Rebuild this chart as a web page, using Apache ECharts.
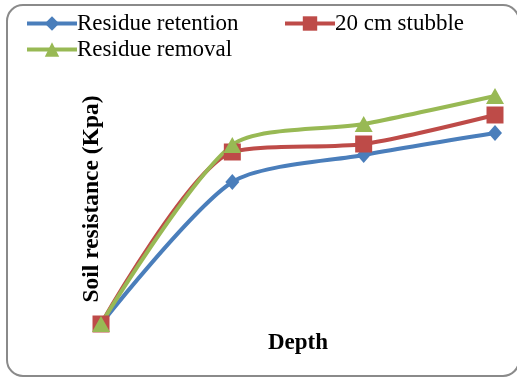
<!DOCTYPE html>
<html>
<head>
<meta charset="utf-8">
<script src="https://cdn.jsdelivr.net/npm/echarts@6/dist/echarts.min.js"></script>
<style>
html,body{margin:0;padding:0;background:#fff;}
#chart{width:517px;height:379px;}
</style>
</head>
<body>
<div id="chart"></div>
<script>
var categories = ['D1', 'D2', 'D3', 'D4'];
var residueRetention = [0, 142, 169, 191];
var stubble20 = [0, 172, 180, 209];
var residueRemoval = [0, 179, 200, 228];
var seriesNames = ['Residue retention', '20 cm stubble', 'Residue removal'];

var font = 'Liberation Serif';
var chart = echarts.init(document.getElementById('chart'));
var legendText = {fontFamily: font, fontSize: 23, color: '#000', padding: [0, 0, 0, -5]};
var legendCommon = {itemWidth: 50, itemHeight: 18, padding: 0, textStyle: legendText, lineStyle: {width: 4}};
chart.setOption({
  animation: false,
  backgroundColor: '#fff',
  graphic: [{
    type: 'rect', z: -10,
    shape: {x: 7, y: 5, width: 512, height: 371, r: 16},
    style: {fill: '#fff', stroke: '#8a8a8a', lineWidth: 2}
  }],
  legend: [
    Object.assign({data: [seriesNames[0]], left: 25, top: 12}, legendCommon),
    Object.assign({data: [seriesNames[1]], left: 283, top: 12}, legendCommon),
    Object.assign({data: [seriesNames[2]], left: 25, top: 38}, legendCommon)
  ],
  grid: {left: 101, right: 22, top: 74, bottom: 55, containLabel: false},
  xAxis: {
    type: 'category', data: categories, boundaryGap: false,
    axisLine: {show: false}, axisTick: {show: false}, axisLabel: {show: false},
    name: 'Depth', nameLocation: 'middle', nameGap: 8,
    nameTextStyle: {fontFamily: font, fontSize: 23, fontWeight: 'bold', color: '#000'}
  },
  yAxis: {
    type: 'value', min: 0, max: 250,
    axisLine: {show: false}, axisTick: {show: false}, axisLabel: {show: false}, splitLine: {show: false},
    name: 'Soil resistance (Kpa)', nameLocation: 'middle', nameRotate: 90, nameGap: -3,
    nameTextStyle: {fontFamily: font, fontSize: 23.5, fontWeight: 'bold', color: '#000'}
  },
  series: [
    {name: seriesNames[0], type: 'line', data: residueRetention, smooth: 0.25,
     symbol: 'diamond', symbolSize: [14, 16],
     lineStyle: {width: 4, color: '#4a7ebb'}, itemStyle: {color: '#4a7ebb'}},
    {name: seriesNames[1], type: 'line', data: stubble20, smooth: 0.25,
     symbol: 'rect', symbolSize: 17,
     lineStyle: {width: 4, color: '#be4b48'}, itemStyle: {color: '#be4b48'}},
    {name: seriesNames[2], type: 'line', data: residueRemoval, smooth: 0.25,
     symbol: 'triangle', symbolSize: [18, 16],
     lineStyle: {width: 4, color: '#98b954'}, itemStyle: {color: '#98b954'}}
  ]
});
</script>
</body>
</html>
